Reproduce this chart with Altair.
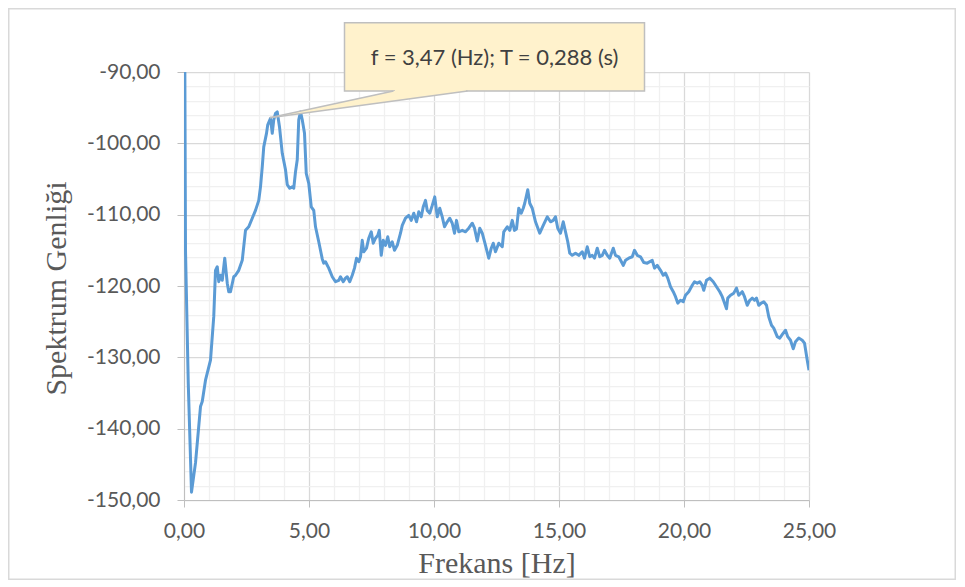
import altair as alt
import pandas as pd

# ---- data ----
freq = [0.03, 0.06, 0.17, 0.30, 0.46, 0.66, 0.73, 0.86, 0.93, 1.06, 1.19, 1.26, 1.33, 1.39, 1.46, 1.53,
        1.63, 1.73, 1.79, 1.86, 1.99, 2.06, 2.19, 2.33, 2.46, 2.59, 2.73, 2.86, 2.99, 3.06, 3.13, 3.19,
        3.30, 3.35, 3.46, 3.53, 3.59, 3.66, 3.73, 3.82, 3.93, 4.06, 4.13, 4.23, 4.33, 4.39, 4.46, 4.53,
        4.59, 4.66, 4.73, 4.82, 4.89, 4.99, 5.09, 5.19, 5.26, 5.39, 5.53, 5.59, 5.66, 5.79, 5.93, 6.06,
        6.19, 6.26, 6.37, 6.46, 6.53, 6.63, 6.73, 6.82, 6.90, 6.99, 7.06, 7.13, 7.19, 7.30, 7.39, 7.49,
        7.57, 7.66, 7.75, 7.81, 7.89, 7.97, 8.06, 8.15, 8.23, 8.33, 8.42, 8.53, 8.66, 8.73, 8.86, 8.99,
        9.09, 9.19, 9.30, 9.39, 9.49, 9.57, 9.66, 9.73, 9.83, 9.93, 10.03, 10.13, 10.23, 10.33, 10.42,
        10.53, 10.63, 10.73, 10.82, 10.90, 10.99, 11.13, 11.26, 11.39, 11.53, 11.62, 11.73, 11.83, 11.93,
        12.06, 12.19, 12.29, 12.37, 12.46, 12.59, 12.73, 12.79, 12.93, 13.03, 13.13, 13.22, 13.30, 13.39,
        13.49, 13.57, 13.63, 13.75, 13.83, 13.93, 14.06, 14.23, 14.37, 14.53, 14.66, 14.77, 14.86, 14.95,
        15.06, 15.17, 15.26, 15.35, 15.43, 15.53, 15.66, 15.79, 15.93, 16.02, 16.13, 16.23, 16.33, 16.42,
        16.53, 16.63, 16.73, 16.82, 16.93, 17.03, 17.17, 17.26, 17.39, 17.57, 17.66, 17.79, 17.93, 18.02,
        18.13, 18.26, 18.39, 18.53, 18.73, 18.82, 18.93, 19.06, 19.17, 19.26, 19.35, 19.46, 19.57, 19.66,
        19.75, 19.86, 19.97, 20.06, 20.19, 20.33, 20.42, 20.53, 20.63, 20.73, 20.79, 20.90, 21.03, 21.17,
        21.30, 21.43, 21.53, 21.62, 21.70, 21.75, 21.86, 21.99, 22.10, 22.19, 22.33, 22.42, 22.53, 22.63,
        22.73, 22.82, 22.90, 22.99, 23.09, 23.19, 23.30, 23.39, 23.50, 23.59, 23.73, 23.83, 23.97, 24.06,
        24.15, 24.26, 24.37, 24.46, 24.59, 24.73, 24.82, 24.93, 25.00]

amp = [-86.0, -115.0, -133.6, -148.9, -144.8, -136.9, -136.2, -133.2, -132.2, -130.4, -124.3, -117.8,
       -117.3, -119.4, -118.5, -119.2, -116.1, -119.6, -120.8, -120.8, -118.7, -118.5, -117.8, -116.4,
       -112.2, -111.7, -110.5, -109.4, -108.0, -106.1, -103.3, -100.5, -98.6, -97.4, -96.5, -98.6, -96.7,
       -95.8, -95.6, -97.7, -101.4, -103.7, -105.8, -106.3, -106.1, -106.3, -104.0, -102.3, -96.7, -95.6,
       -96.7, -98.6, -104.2, -105.6, -108.9, -109.4, -111.7, -113.8, -116.2, -116.8, -116.6, -117.5,
       -118.7, -119.4, -119.2, -118.7, -119.4, -118.9, -118.7, -119.4, -118.5, -117.5, -116.1, -116.6,
       -115.9, -113.6, -115.2, -114.7, -113.3, -112.4, -114.0, -113.3, -112.9, -112.2, -115.7, -113.6,
       -114.3, -113.1, -114.5, -113.8, -115.0, -114.3, -112.6, -111.5, -110.5, -110.1, -110.8, -109.8,
       -111.0, -109.6, -110.3, -108.9, -108.0, -109.4, -109.8, -108.7, -107.5, -110.3, -109.1, -110.3,
       -111.7, -111.0, -110.5, -111.2, -112.6, -110.8, -112.4, -112.2, -112.4, -111.9, -111.2, -111.9,
       -113.7, -111.9, -112.6, -114.3, -116.1, -114.7, -114.0, -115.2, -114.0, -114.5, -112.4, -111.7,
       -112.2, -110.8, -112.2, -112.0, -109.1, -109.8, -109.1, -108.4, -106.5, -108.4, -109.1, -111.0,
       -112.6, -111.5, -110.3, -111.0, -110.8, -110.3, -111.9, -112.6, -111.0, -112.4, -113.8, -115.4,
       -115.7, -115.4, -115.7, -115.2, -116.1, -114.5, -115.9, -115.7, -116.1, -114.7, -115.9, -115.7,
       -115.0, -115.7, -116.1, -114.7, -115.7, -115.9, -117.1, -116.4, -116.1, -115.9, -115.0, -115.7,
       -115.9, -116.7, -116.8, -116.4, -117.5, -117.1, -117.8, -118.5, -118.2, -118.9, -120.1, -120.8,
       -121.5, -122.4, -122.0, -122.2, -121.3, -120.8, -119.9, -119.4, -119.6, -119.4, -119.9, -120.6,
       -119.2, -118.9, -119.4, -120.1, -120.8, -121.5, -122.4, -123.2, -121.7, -121.3, -121.0, -120.3,
       -121.3, -120.8, -121.5, -122.7, -122.0, -121.7, -122.0, -121.7, -122.7, -122.4, -122.2, -122.7,
       -124.3, -125.5, -125.9, -127.1, -127.3, -126.6, -126.2, -127.1, -127.6, -128.8, -127.8, -127.3,
       -127.6, -128.0, -130.4, -131.8]

x_tick_values = list(range(0, 26))          # every 1 Hz (major every 5)
y_tick_values = list(range(-150, -89, 2))   # every 2 (major every 10)

x_title = "Frekans [Hz]"
y_title = "Spektrum Genliği"
callout_text = "f = 3,47 (Hz); T = 0,288 (s)"

# callout geometry (data units)
box_f = [6.42, 18.42]
box_v = [-92.66, -83.09]
tip_f, tip_v = 3.43, -96.4
base_f = [8.38, 11.34]
text_f, text_v = 12.42, -88.0

# ---- frames ----
df_line = pd.DataFrame({"f": freq, "v": amp})
df_box = pd.DataFrame({"f": [box_f[0]], "f2": [box_f[1]], "v": [box_v[0]], "v2": [box_v[1]]})
df_cover = pd.DataFrame({"f": [base_f[0] + 0.06], "f2": [base_f[1] - 0.06],
                         "v": [box_v[0] - 0.15], "v2": [box_v[0] + 0.35]})
ac_slope = (box_v[0] - tip_v) / (base_f[1] - tip_f)
df_ptr = pd.DataFrame({"f": [tip_f, base_f[0], base_f[1]],
                       "v": [tip_v, box_v[0], box_v[0]],
                       "v2": [tip_v, tip_v + ac_slope * (base_f[0] - tip_f), box_v[0]]})
df_edges = pd.DataFrame({"e": ["ab", "ab", "ac", "ac"],
                         "f": [tip_f, base_f[0], tip_f, base_f[1]],
                         "v": [tip_v, box_v[0], tip_v, box_v[0]]})
df_text = pd.DataFrame({"f": [text_f], "v": [text_v], "t": [callout_text]})
df_one = pd.DataFrame({"a": [0]})

W, H = 625, 428
PL, PT, PR, PB = 176, 64, 147, 80

xscale = alt.Scale(domain=[0, 25], nice=False, zero=False)
yscale = alt.Scale(domain=[-150, -90], nice=False, zero=False)

common_axis = dict(
    grid=True, gridWidth=1.25,
    domainColor="#BFBFBF", domainWidth=1,
    tickColor="#BFBFBF", tickSize=7, tickWidth=1,
    labelFont="Lato", labelFontSize=21, labelColor="#595959",
    labelOverlap=False, labelFlush=False, labelBound=False,
    titleFont="Liberation Serif", titleFontSize=30, titleFontWeight="normal",
    titleColor="#595959", titleBaseline="middle", titleAlign="center",
)

xaxis = alt.Axis(
    values=x_tick_values, title=x_title,
    gridColor={"condition": {"test": "datum.value % 5 === 0", "value": "#D9D9D9"}, "value": "#F0F0F0"},
    tickOpacity={"condition": {"test": "datum.value % 5 === 0", "value": 1}, "value": 0},
    labelExpr="datum.value % 5 === 0 ? replace(format(datum.value, '.2f'), '.', ',') : ''",
    labelPadding=13, titleX=W / 2, titleY=63, titleAngle=0,
    **common_axis,
)
yaxis = alt.Axis(
    values=y_tick_values, title=y_title,
    gridColor={"condition": {"test": "datum.value % 10 === 0", "value": "#D9D9D9"}, "value": "#F0F0F0"},
    tickOpacity={"condition": {"test": "datum.value % 10 === 0", "value": 1}, "value": 0},
    labelExpr="datum.value % 10 === 0 ? '-' + replace(format(abs(datum.value), '.2f'), '.', ',') : ''",
    labelPadding=17, titleX=-128, titleY=216, titleAngle=-90,
    **common_axis,
)

X = alt.X("f:Q", scale=xscale, axis=xaxis)
Y = alt.Y("v:Q", scale=yscale, axis=yaxis)

border = alt.Chart(df_one).mark_rect(fill=None, stroke="#D9D9D9", strokeWidth=1.5, clip=False).encode(
    x=alt.value(-PL + 0.75), x2=alt.value(W + PR - 0.75),
    y=alt.value(-PT + 0.75), y2=alt.value(H + PB - 0.75),
)

line = alt.Chart(df_line).mark_line(color="#5B9BD5", strokeWidth=3, clip=True,
                                    strokeJoin="round").encode(x=X, y=Y)

box = alt.Chart(df_box).mark_rect(fill="#FFF2CC", stroke="#BFBFBF", strokeWidth=1.5, clip=False).encode(
    x=X, x2=alt.X2("f2"), y=Y, y2=alt.Y2("v2"))

ptr = alt.Chart(df_ptr).mark_area(color="#FFF2CC", opacity=1, clip=False).encode(
    x=X, y=Y, y2=alt.Y2("v2"))

cover = alt.Chart(df_cover).mark_rect(fill="#FFF2CC", clip=False).encode(
    x=X, x2=alt.X2("f2"), y=Y, y2=alt.Y2("v2"))

edges = alt.Chart(df_edges).mark_line(color="#BFBFBF", strokeWidth=1.5, clip=False).encode(
    x=X, y=Y, detail="e:N")

text = alt.Chart(df_text).mark_text(font="Lato", fontSize=22, color="#404040",
                                    align="center", baseline="middle", clip=False).encode(
    x=X, y=Y, text="t:N")

chart = alt.layer(border, line, box, ptr, cover, edges, text).properties(
    width=W, height=H,
    padding={"left": PL, "top": PT, "right": PR, "bottom": PB},
    autosize=alt.AutoSizeParams(type="none"),
    background="white",
).configure_view(stroke=None)

chart.save("out.html", embed_options={"renderer": "svg", "actions": False})
